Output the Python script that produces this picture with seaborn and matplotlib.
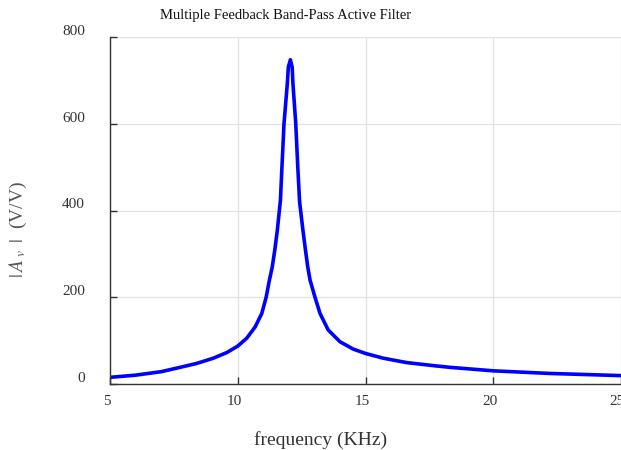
import matplotlib
matplotlib.use('Agg')
import matplotlib.pyplot as plt
import matplotlib.transforms as mtransforms
import pandas as pd
import seaborn as sns

# 频率响应数据
freq_khz = [5.0, 6.0, 7.0, 7.74, 8.39, 9.04, 9.57, 10.0, 10.35, 10.68,
            10.94, 11.11, 11.24, 11.35, 11.45, 11.55, 11.67, 11.73, 11.81,
            11.94, 11.98, 12.06, 12.13, 12.16, 12.27, 12.35, 12.42, 12.55,
            12.65, 12.74, 12.83, 13.02, 13.22, 13.54, 14.0, 14.52, 15.0,
            15.7, 16.61, 17.65, 18.31, 20.0, 22.2, 25.0]
gain_vv = [16, 21, 29, 39, 48, 60, 73, 88, 106, 132,
           163, 200, 240, 270, 309, 355, 424, 500, 600,
           692, 730, 747, 730, 692, 600, 500, 420, 355,
           309, 270, 240, 201, 163, 125, 98, 81, 71,
           60, 50, 43, 39, 31, 25, 20]
x_ticks = [5, 10, 15, 20, 25]
y_ticks = [0, 200, 400, 600, 800]

df = pd.DataFrame({'freq': freq_khz, 'gain': gain_vv})

sns.set_theme(style='whitegrid')
plt.rcParams['font.family'] = ['Liberation Serif', 'DejaVu Serif']
plt.rcParams['mathtext.fontset'] = 'stix'

fig = plt.figure(figsize=(6.21, 4.5), dpi=100)
ax = fig.add_axes([110 / 621, 1 - 384.3 / 450, 511 / 621, 347.6 / 450])

sns.lineplot(data=df, x='freq', y='gain', color='#0000ff', linewidth=2.6,
             solid_joinstyle='round', solid_capstyle='round', ax=ax)

ax.set_xlim(5, 25)
ax.set_ylim(0, 800)
ax.set_xticks(x_ticks)
ax.set_yticks(y_ticks)
ax.grid(True, color='#e2e2e2', linewidth=0.9)
ax.set_facecolor('white')

for side in ['top', 'right']:
    ax.spines[side].set_visible(False)
for side in ['left', 'bottom']:
    ax.spines[side].set_color('#333333')
    ax.spines[side].set_linewidth(1.0)

ax.tick_params(axis='both', direction='in', length=5, width=1.0, colors='#333333',
               labelsize=11, labelcolor='#333333')
ax.tick_params(axis='y', pad=18, left=True)
ax.tick_params(axis='x', pad=8, bottom=True)

# 刻度标签轻微偏移
dy = mtransforms.ScaledTranslation(0, 7 / 100, fig.dpi_scale_trans)
for lab in ax.get_yticklabels():
    lab.set_transform(lab.get_transform() + dy)
dx = mtransforms.ScaledTranslation(-3.5 / 100, 0, fig.dpi_scale_trans)
for lab in ax.get_xticklabels():
    lab.set_transform(lab.get_transform() + dx)

ax.set_xlabel('frequency (KHz)', fontsize=14, color='#333333')
ax.xaxis.set_label_coords((321 - 110) / 511, -(440 - 384.3) / 347.6)
ax.set_ylabel(r'$|\,A_{\ v}\ \,|$  (V/V)', fontsize=14, color='#555555')
ax.yaxis.set_label_coords(-(110 - 18) / 511, (384.3 - 230) / 347.6)
ax.xaxis.label.set_verticalalignment('center')
ax.yaxis.label.set_verticalalignment('center')

fig.text(286 / 621, 1 - 15 / 450, 'Multiple Feedback Band-Pass Active Filter',
         ha='center', va='center', fontsize=10.5, color='#111111')

fig.savefig('out.png', dpi=100)
